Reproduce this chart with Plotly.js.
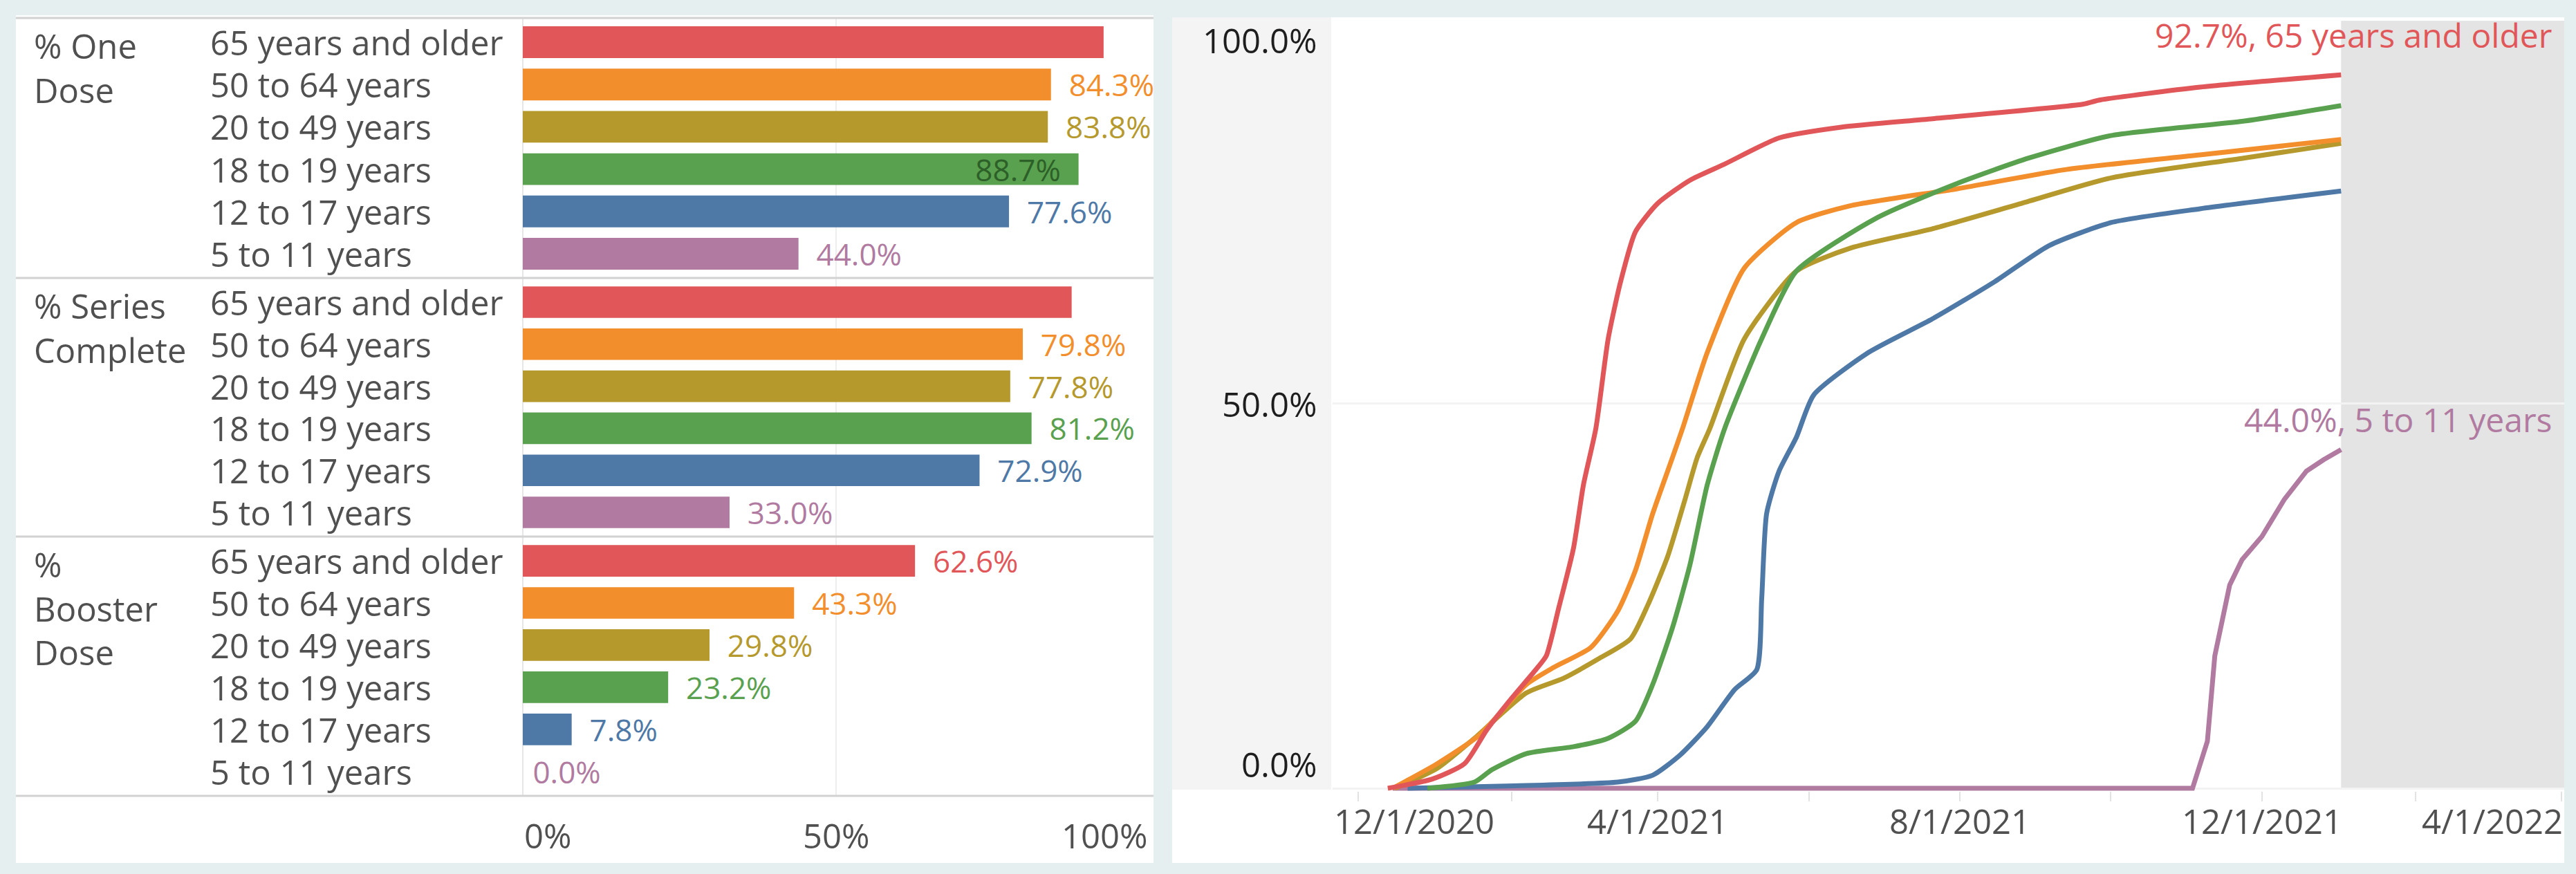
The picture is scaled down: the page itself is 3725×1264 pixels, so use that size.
<!DOCTYPE html>
<html>
<head>
<meta charset="utf-8">
<script src="https://cdn.plot.ly/plotly-3.0.1.min.js"></script>
<style>
html,body{margin:0;padding:0;background:#e6efef;}
#chart{width:3725px;height:1264px;}
</style>
</head>
<body>
<div id="chart"></div>
<script>
// ---------------- DATA ----------------
const ageGroups = ["65 years and older", "50 to 64 years", "20 to 49 years", "18 to 19 years", "12 to 17 years", "5 to 11 years"];
const measureNames = ["% One<br>Dose", "% Series<br>Complete", "%<br>Booster<br>Dose"];

const oneDose        = [92.7, 84.3, 83.8, 88.7, 77.6, 44.0];
const seriesComplete = [87.6, 79.8, 77.8, 81.2, 72.9, 33.0];
const boosterDose    = [62.6, 43.3, 29.8, 23.2, 7.8, 0.0];

const oneDoseLabelPos   = ["none", "outside", "outside", "inside", "outside", "outside"];
const seriesLabelPos    = ["none", "outside", "outside", "outside", "outside", "outside"];
const boosterLabelPos   = ["outside", "outside", "outside", "outside", "outside", "outside"];

const barTickVals = [0, 50, 100];
const barTickText = ["0%", "50%", "100%"];

// cumulative % with at least one dose, by age group
const dates65   = ["2020-12-13","2020-12-31","2021-01-13","2021-01-22","2021-01-31","2021-02-11","2021-02-15","2021-02-20","2021-02-26","2021-03-02","2021-03-07","2021-03-12","2021-03-17","2021-03-23","2021-04-01","2021-04-14","2021-04-28","2021-05-20","2021-06-14","2021-07-21","2021-09-20","2021-09-26","2021-11-06","2022-01-02"];
const pct65     = [0, 1.2, 3.2, 7.6, 11.3, 15.5, 17.2, 23.4, 31.2, 39.4, 46.7, 58.4, 65.8, 72.3, 76.0, 79.0, 81.1, 84.5, 85.9, 87.0, 88.9, 89.4, 91.1, 92.7];

const dates5064 = ["2020-12-15","2021-01-02","2021-01-19","2021-02-07","2021-02-18","2021-03-05","2021-03-16","2021-03-23","2021-03-30","2021-04-07","2021-04-11","2021-04-21","2021-05-06","2021-05-27","2021-06-18","2021-07-31","2021-09-13","2021-11-06","2022-01-02"];
const pct5064   = [0, 3.2, 6.9, 13.5, 15.7, 18.3, 23.1, 28.3, 35.7, 43.0, 46.7, 56.6, 67.6, 73.5, 75.7, 77.9, 80.4, 82.3, 84.3];

const dates2049 = ["2020-12-16","2021-01-02","2021-01-17","2021-02-07","2021-02-22","2021-03-08","2021-03-21","2021-03-28","2021-04-05","2021-04-12","2021-04-17","2021-04-22","2021-05-06","2021-05-27","2021-06-18","2021-07-21","2021-08-26","2021-10-01","2021-11-24","2022-01-02"];
const pct2049   = [0, 2.6, 6.5, 12.4, 14.3, 16.8, 19.4, 23.8, 30.1, 37.5, 43.0, 46.7, 58.4, 67.2, 70.2, 72.7, 76.0, 79.3, 81.9, 83.8];

const dates1819 = ["2020-12-29","2021-01-17","2021-01-24","2021-02-07","2021-02-26","2021-03-12","2021-03-23","2021-03-30","2021-04-07","2021-04-14","2021-04-21","2021-04-28","2021-05-13","2021-05-27","2021-06-29","2021-07-31","2021-08-29","2021-10-01","2021-11-24","2022-01-02"];
const pct1819   = [0, 0.8, 2.4, 4.5, 5.4, 6.5, 8.7, 13.5, 20.9, 29.0, 39.4, 46.7, 58.4, 67.2, 74.2, 78.6, 81.9, 84.8, 86.7, 88.7];

const dates1217 = ["2020-12-21","2021-01-30","2021-03-16","2021-03-30","2021-04-10","2021-04-21","2021-05-02","2021-05-11","2021-05-13","2021-05-15","2021-05-20","2021-05-27","2021-06-03","2021-06-25","2021-07-21","2021-08-15","2021-09-06","2021-10-01","2021-11-06","2022-01-02"];
const pct1217   = [0, 0.3, 0.8, 1.7, 4.3, 8.0, 12.8, 15.4, 24.6, 35.7, 41.2, 45.6, 51.1, 56.6, 61.0, 65.8, 70.5, 73.5, 75.3, 77.6];

const dates0511 = ["2020-12-15","2021-11-03","2021-11-09","2021-11-12","2021-11-18","2021-11-23","2021-12-01","2021-12-10","2021-12-19","2021-12-26","2022-01-02"];
const pct0511   = [0, 0, 6.1, 17.2, 26.4, 29.7, 32.7, 37.5, 41.2, 42.7, 44.0];

const lineTickDates = ["2020-12-01", "2021-04-01", "2021-08-01", "2021-12-01", "2022-04-01"];
const lineTickText  = ["12/1/2020", "4/1/2021", "8/1/2021", "12/1/2021", "4/1/2022"];
const lineYTickVals = [0, 50, 100];
const lineYTickText = ["0.0%", "50.0%", "100.0%"];
const labeledSeries = ["65 years and older", "5 to 11 years"];

// ---------------- STYLE ----------------
const groupColors = ["#e15759", "#f28e2b", "#b6992d", "#59a14f", "#4e79a7", "#b07aa1"];
const insideLabelColor = "#2d5f28";
const FONT = "Open Sans, Noto Sans, sans-serif";
const TXT = "#505050";
const W = 3725, H = 1264;
const px = x => x / W;
const py = y => 1 - y / H;

const barXDomain = [px(756), px(1662)];
const sectionTops = [26, 402, 776];
const sectionBottoms = [402, 776, 1151];
const yAxisIds = ["y", "y2", "y3"];
const barSeries = [oneDose, seriesComplete, boosterDose];
const barLabelPos = [oneDoseLabelPos, seriesLabelPos, boosterLabelPos];

const lineXRange = ["2020-11-20 17:00", "2022-04-02 03:00"];
const lineXDomain = [px(1927), px(3708)];
// y = 0 sits at 1140 px, 100 at 27 px; a small margin below 0 keeps the flat line visible
const lineYRange = [-0.35, 100];
const lineYDomain = [py(1140 + 0.35 * (1113 / 100)), py(27)];

const traces = [];
barSeries.forEach((vals, s) => {
  traces.push({
    type: "bar", orientation: "h",
    x: vals, y: ageGroups,
    xaxis: "x", yaxis: yAxisIds[s],
    marker: {color: groupColors, line: {width: 0}},
    text: vals.map((v, i) => barLabelPos[s][i] === "inside" ? v.toFixed(1) + "%\u00a0\u00a0"
      : (v === 0 ? "\u00a0" : "\u00a0\u00a0") + v.toFixed(1) + "%"),
    textposition: barLabelPos[s],
    insidetextanchor: "end",
    constraintext: "none",
    cliponaxis: false,
    outsidetextfont: {family: FONT, size: 44, color: groupColors},
    insidetextfont: {family: FONT, size: 44, color: groupColors.map(() => insideLabelColor)},
    hoverinfo: "skip", showlegend: false
  });
});

// [dates, values, colour index, line shape]
const lineSets = [
  [dates0511, pct0511, 5, "linear"],
  [dates1217, pct1217, 4, "spline"],
  [dates2049, pct2049, 2, "spline"],
  [dates5064, pct5064, 1, "spline"],
  [dates1819, pct1819, 3, "spline"],
  [dates65, pct65, 0, "spline"]
];
lineSets.forEach(([d, p, gi, shp]) => {
  traces.push({
    type: "scatter", mode: "lines",
    x: d, y: p, xaxis: "x2", yaxis: "y4",
    line: {color: groupColors[gi], width: 7, shape: shp, smoothing: 0.6},
    name: ageGroups[gi], hoverinfo: "skip", showlegend: false
  });
});

const annotations = [];
// category labels and measure names
barSeries.forEach((vals, s) => {
  ageGroups.forEach(g => {
    annotations.push({xref: "paper", yref: yAxisIds[s], x: px(302), y: g, xanchor: "left", yanchor: "middle",
      text: g, showarrow: false, font: {family: FONT, size: 49, color: TXT}});
  });
  annotations.push({xref: "paper", yref: "paper", x: px(47), y: py(sectionTops[s]), xanchor: "left", yanchor: "top", yshift: -5,
    align: "left", text: measureNames[s], showarrow: false, font: {family: FONT, size: 49, color: TXT}});
});
// bar axis tick labels
barTickVals.forEach((v, i) => {
  const anchor = i === 0 ? "left" : (i === barTickVals.length - 1 ? "right" : "center");
  annotations.push({xref: "x", yref: "paper", x: v, y: py(1208), xanchor: anchor, yanchor: "middle",
    text: barTickText[i], showarrow: false, font: {family: FONT, size: 49, color: TXT}});
});
// line chart y tick labels
lineYTickVals.forEach((v, i) => {
  const ya = i === 0 ? "bottom" : (i === lineYTickVals.length - 1 ? "top" : "middle");
  annotations.push({xref: "paper", yref: "y4", x: px(1906), y: v, xanchor: "right", yanchor: ya,
    yshift: i === lineYTickVals.length - 1 ? 4 : 0,
    text: lineYTickText[i], showarrow: false, font: {family: FONT, size: 49, color: "#1e1e1e"}});
});
// line chart x tick labels
lineTickDates.forEach((d, i) => {
  let x = d, anchor = "center";
  if (i === 0) { x = lineXRange[0]; anchor = "left"; }
  if (i === lineTickDates.length - 1) { x = lineXRange[1]; anchor = "right"; }
  annotations.push({xref: "x2", yref: "paper", x: x, y: py(1187), xanchor: anchor, yanchor: "middle",
    text: lineTickText[i], showarrow: false, font: {family: FONT, size: 49, color: TXT}});
});
// end-of-line labels
lineSets.forEach(([d, p, gi]) => {
  if (labeledSeries.indexOf(ageGroups[gi]) < 0) return;
  annotations.push({xref: "paper", yref: "y4", x: px(3692), y: p[p.length - 1], xanchor: "right", yanchor: "middle",
    yshift: gi === 0 ? 58 : 44, text: p[p.length - 1].toFixed(1) + "%, " + ageGroups[gi], showarrow: false,
    font: {family: FONT, size: 48, color: groupColors[gi]}});
});

const lastDate = dates65[dates65.length - 1];
const shapes = [
  {type: "rect", xref: "paper", yref: "paper", x0: px(23), x1: px(1668), y0: py(1248), y1: py(22), fillcolor: "#ffffff", line: {width: 0}, layer: "below"},
  {type: "rect", xref: "paper", yref: "paper", x0: px(1695), x1: px(3708), y0: py(1248), y1: py(25), fillcolor: "#ffffff", line: {width: 0}, layer: "below"},
  {type: "rect", xref: "paper", yref: "paper", x0: px(1695), x1: px(1925), y0: py(1142), y1: py(25), fillcolor: "#f4f4f4", line: {width: 0}, layer: "below"},
  {type: "rect", xref: "x2", yref: "paper", x0: lastDate, x1: lineXRange[1], y0: py(1141), y1: py(30), fillcolor: "#e4e4e4", line: {width: 0}, layer: "below"}
];
[sectionTops[0]].concat(sectionBottoms).forEach(y => {
  shapes.push({type: "line", xref: "paper", yref: "paper", x0: px(23), x1: px(1668), y0: py(y), y1: py(y),
    line: {color: "#d2d2d2", width: 3}, layer: "above"});
});

const catAxis = (dom) => ({domain: dom, anchor: "x", type: "category", categoryorder: "array", categoryarray: ageGroups,
  autorange: "reversed", showticklabels: false, showgrid: false, zeroline: false, showline: false, fixedrange: true});

const layout = {
  width: W, height: H,
  margin: {l: 0, r: 0, t: 0, b: 0, pad: 0},
  paper_bgcolor: "#e6efef",
  plot_bgcolor: "rgba(0,0,0,0)",
  font: {family: FONT, color: TXT},
  bargap: 0.25,
  showlegend: false,
  xaxis: {domain: barXDomain, range: [0, 100], anchor: "y3", tickvals: [50], showticklabels: false,
    showgrid: true, gridcolor: "#eeeeee", gridwidth: 2, zeroline: true, zerolinecolor: "#e6e6e6", zerolinewidth: 2,
    showline: false, fixedrange: true},
  yaxis: catAxis([py(sectionBottoms[0]), py(sectionTops[0])]),
  yaxis2: catAxis([py(sectionBottoms[1]), py(sectionTops[1])]),
  yaxis3: catAxis([py(sectionBottoms[2]), py(sectionTops[2])]),
  xaxis2: {domain: lineXDomain, type: "date", range: lineXRange, anchor: "y4",
    tick0: "2020-12-01", dtick: "M2", ticks: "outside", ticklen: 14, tickwidth: 2, tickcolor: "#e2e2e2",
    showticklabels: false, showgrid: false, zeroline: false, showline: false, fixedrange: true},
  yaxis4: {domain: lineYDomain, range: lineYRange, anchor: "x2", tickvals: lineYTickVals, showticklabels: false,
    showgrid: true, gridcolor: "#f3f3f3", gridwidth: 3, zeroline: false, showline: false, fixedrange: true},
  shapes: shapes,
  annotations: annotations
};

Plotly.newPlot("chart", traces, layout, {displayModeBar: false, staticPlot: true});
</script>
</body>
</html>
